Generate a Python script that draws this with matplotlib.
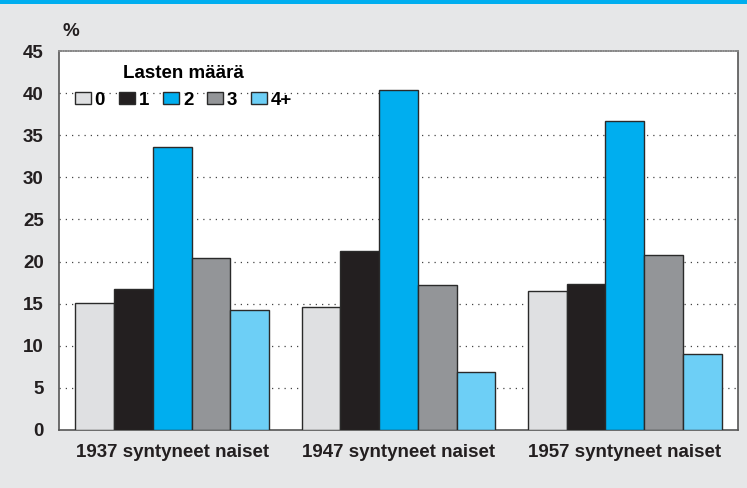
import numpy as np
import matplotlib
matplotlib.use("Agg")
import matplotlib.pyplot as plt
from matplotlib.patches import Rectangle

plt.rcParams['font.family'] = ['Liberation Sans', 'DejaVu Sans']
plt.rcParams['font.weight'] = 'bold'

# ryhmät ja arvot (%)
ryhmat = ['1937 syntyneet naiset', '1947 syntyneet naiset', '1957 syntyneet naiset']
lapset = ['0', '1', '2', '3', '4+']
arvo_0 = [15.1, 14.6, 16.5]
arvo_1 = [16.7, 21.2, 17.3]
arvo_2 = [33.6, 40.4, 36.7]
arvo_3 = [20.4, 17.2, 20.8]
arvo_4 = [14.2, 6.9, 9.0]
y_ticks = [0, 5, 10, 15, 20, 25, 30, 35, 40, 45]

sarjat = [arvo_0, arvo_1, arvo_2, arvo_3, arvo_4]
varit = ['#dfe0e2', '#231f20', '#00aeef', '#939598', '#6dcff6']
fs = 13.5

fig = plt.figure(figsize=(7.47, 4.88), dpi=100)
fig.patch.set_facecolor('#e6e7e8')
# sininen raita ylhäällä
fig.patches.append(Rectangle((0, 1 - 4 / 488), 1, 4 / 488, transform=fig.transFigure,
                             facecolor='#00aeef', edgecolor='none'))

ax = fig.add_axes([59 / 747, 1 - 430 / 488, (738 - 59) / 747, (430 - 51) / 488])
ax.set_facecolor('white')

x = np.arange(len(ryhmat))
w = 0.171
for i, (s, c) in enumerate(zip(sarjat, varit)):
    ax.bar(x + (i - 2) * w, s, width=w, color=c, edgecolor='#2a2a2a', linewidth=1.0,
           label=lapset[i], zorder=3)

ax.set_xlim(-0.5, 2.5)
ax.set_ylim(0, 45)
ax.set_yticks(y_ticks)
ax.set_yticklabels([str(t) for t in y_ticks], fontsize=fs, fontweight='bold')
ax.set_xticks(x)
ax.set_xticklabels(ryhmat, fontsize=fs, fontweight='bold', color='#231f20')
ax.tick_params(axis='y', length=0, pad=11, labelcolor='#231f20')
ax.tick_params(axis='x', length=0, pad=10)

for t in y_ticks[1:-1]:
    ax.axhline(t, color='#444444', linestyle=(0, (1, 4)), linewidth=0.9, zorder=1)

for sp in ['left', 'bottom', 'right', 'top']:
    ax.spines[sp].set_color('#555555')
    ax.spines[sp].set_linewidth(1.2)
ax.spines['top'].set_color('#888888')
ax.spines['top'].set_linestyle((0, (1, 0.5)))

fig.text(63 / 747, 1 - 32 / 488, '%', fontsize=fs, fontweight='bold', va='center',
         ha='left', color='#231f20')

leg = ax.legend(ncol=5, loc='upper left', bbox_to_anchor=(0.0125, 0.982), frameon=False,
                fontsize=fs, title='Lasten määrä', handlelength=0.85, handleheight=0.55,
                handletextpad=0.2, columnspacing=0.75, borderaxespad=0.0)
leg.get_title().set_fontweight('bold')
leg.get_title().set_fontsize(fs)
for h in leg.legend_handles:
    h.set_linewidth(1.0)

fig.savefig('out.png', dpi=100, facecolor=fig.get_facecolor())
